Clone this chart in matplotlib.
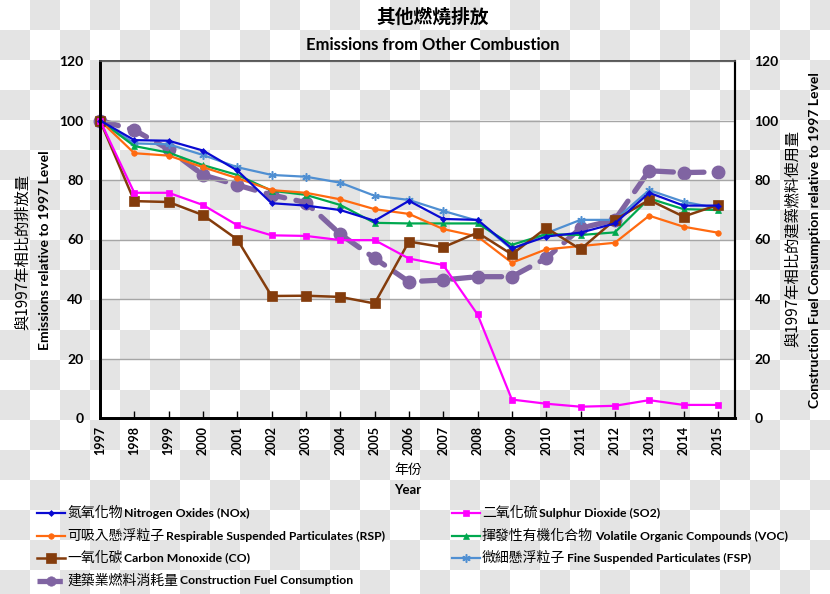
import numpy as np
import matplotlib
matplotlib.use("Agg")
import matplotlib.pyplot as plt
from matplotlib.lines import Line2D

# ---------------- data ----------------
years = list(range(1997, 2016))
nox = [100, 93.4, 93.2, 89.9, 83.2, 72.2, 71.4, 69.9, 66.3, 73.0,
       66.9, 66.6, 57.0, 61.0, 62.3, 65.4, 75.7, 71.4, 71.4]
so2 = [100, 75.7, 75.7, 71.6, 64.8, 61.4, 61.2, 59.8, 59.8, 53.6,
       51.4, 34.8, 6.2, 4.8, 3.8, 4.1, 6.0, 4.4, 4.4]
rsp = [100, 89.0, 88.2, 84.3, 80.6, 76.6, 75.7, 73.5, 70.2, 68.6,
       63.5, 61.0, 52.2, 56.7, 57.8, 58.9, 68.0, 64.3, 62.3]
voc = [100, 91.4, 89.2, 85.0, 81.7, 76.4, 75.0, 71.6, 65.6, 65.4,
       65.4, 65.4, 58.2, 61.8, 61.5, 62.4, 73.8, 70.2, 69.9]
co = [100, 72.9, 72.6, 68.2, 60.0, 41.0, 41.1, 40.7, 38.5, 59.3,
      57.4, 62.3, 55.0, 63.9, 56.7, 66.6, 73.3, 67.7, 71.6]
fsp = [100, 92.3, 92.0, 88.4, 84.3, 81.7, 81.1, 79.1, 74.7, 73.3,
       69.6, 66.3, 56.7, 62.1, 66.6, 66.6, 76.6, 72.7, 70.5]
fuel = [100, 96.8, 90.3, 81.7, 78.3, 75.0, 72.4, 61.8, 53.7, 45.8,
        46.4, 47.5, 47.5, 53.7, 63.8, 66.6, 83.1, 82.5, 82.7]

y_ticks = [0, 20, 40, 60, 80, 100, 120]

title_zh = "其他燃燒排放"
title_en = "Emissions from Other Combustion"
ylabel_zh = "與1997年相比的排放量"
ylabel_en = "Emissions relative to 1997 Level"
y2label_zh = "與1997年相比的建築燃料使用量"
y2label_en = "Construction Fuel Consumption relative to 1997 Level"
xlabel_zh = "年份"
xlabel_en = "Year"

names_zh = ["氮氧化物", "可吸入懸浮粒子", "一氧化碳", "建築業燃料消耗量",
            "二氧化硫", "揮發性有機化合物", "微細懸浮粒子"]
names_en = ["Nitrogen Oxides (NOx)", "Respirable Suspended Particulates (RSP)",
            "Carbon Monoxide (CO)", "Construction Fuel Consumption",
            "Sulphur Dioxide (SO2)", "Volatile Organic Compounds (VOC)",
            "Fine Suspended Particulates (FSP)"]

# ---------------- style ----------------
CJK = "Noto Sans CJK TC"
EN = "Lato"
W, H = 830, 594

ASTER = (6, 2, 0)
styles = {
    "nox": dict(color="#0a0ad2", marker="D", ms=3, lw=1.6, ls="-"),
    "so2": dict(color="#ff00ff", marker="s", ms=4, lw=1.6, ls="-"),
    "rsp": dict(color="#ff6a10", marker="o", ms=4, lw=1.6, ls="-"),
    "voc": dict(color="#00a84f", marker="^", ms=4.5, lw=1.6, ls="-"),
    "co": dict(color="#843c0c", marker="s", ms=6.5, lw=1.8, ls="-"),
    "fsp": dict(color="#4f8fd2", marker=ASTER, ms=6, lw=1.6, ls="-"),
    "fuel": dict(color="#8064a2", marker="o", ms=9, lw=3.8, ls=(0, (3.6, 2.2))),
}

fig = plt.figure(figsize=(W / 100, H / 100), dpi=100)
fig.patch.set_alpha(0)

# checkerboard background (transparent-image look)
yy, xx = np.mgrid[0:H, 0:W]
cell = ((xx // 30) + (yy // 30)) % 2
bg = np.where(cell[..., None] == 1, np.array([0.895, 0.895, 0.895]), np.array([1.0, 1.0, 1.0]))
fig.figimage(bg, xo=0, yo=0, origin="upper", zorder=0)


def fx(px):
    return px / W


def fy(py):
    return 1 - py / H


ax = fig.add_axes([fx(100), fy(418), fx(735) - fx(100), fy(61) - fy(418)])
ax2 = ax.twinx()
ax.set_zorder(2)
ax2.set_zorder(1)
ax.patch.set_visible(False)
ax2.patch.set_visible(False)

for key, data in [("fsp", fsp), ("voc", voc), ("rsp", rsp), ("co", co),
                  ("so2", so2), ("nox", nox)]:
    s = styles[key]
    ax.plot(years, data, color=s["color"], marker=s["marker"], ms=s["ms"],
            lw=s["lw"], ls=s["ls"], mew=1.1 if key == "fsp" else 0.5,
            mec=s["color"], mfc=s["color"], clip_on=False)
s = styles["fuel"]
ax2.plot(years, fuel, color=s["color"], marker=s["marker"], ms=s["ms"],
         lw=s["lw"], ls=s["ls"], clip_on=False, dash_capstyle="round")

for a in (ax, ax2):
    a.set_xlim(1997, 2015.5)
    a.set_ylim(0, 120)
    a.set_yticks(y_ticks)

ax.set_xticks(years)
ax.set_xticklabels([str(y) for y in years], rotation=90, fontfamily=EN,
                   fontweight="bold", fontsize=9)
ax.tick_params(axis="x", direction="in", length=5, width=1, pad=6)
ax.tick_params(axis="y", length=0, pad=12)
ax2.tick_params(axis="y", length=0, pad=14)
for lab in ax.get_yticklabels():
    lab.set_fontfamily(EN); lab.set_fontweight("bold"); lab.set_fontsize(10)
for lab in ax2.get_yticklabels():
    lab.set_fontfamily(EN); lab.set_fontweight("bold"); lab.set_fontsize(10)

ax.grid(axis="y", color="#a6a6a6", lw=1)
ax.set_axisbelow(True)
for a in (ax, ax2):
    a.spines["left"].set_linewidth(2)
    a.spines["bottom"].set_linewidth(2)
    a.spines["right"].set_linewidth(1.5)
    a.spines["top"].set_linewidth(1.2)
    a.spines["top"].set_color("#555555")

# titles
fig.text(fx(433), fy(17), title_zh, ha="center", va="center", fontfamily=CJK,
         fontsize=13.5, fontweight="bold")
fig.text(fx(433), fy(45), title_en, ha="center", va="center", fontfamily=EN,
         fontsize=12, fontweight="bold")

# axis labels
fig.text(fx(22), fy(252), ylabel_zh, rotation=90, ha="center", va="center",
         fontfamily=[CJK, "DejaVu Sans"], fontsize=11)
fig.text(fx(45), fy(250), ylabel_en, rotation=90, ha="center", va="center",
         fontfamily=EN, fontsize=10, fontweight="bold")
fig.text(fx(792), fy(238), y2label_zh, rotation=90, ha="center", va="center",
         fontfamily=[CJK, "DejaVu Sans"], fontsize=11)
fig.text(fx(815), fy(240), y2label_en, rotation=90, ha="center", va="center",
         fontfamily=EN, fontsize=10, fontweight="bold")
fig.text(fx(408), fy(470), xlabel_zh, ha="center", va="center",
         fontfamily=CJK, fontsize=10)
fig.text(fx(408), fy(490), xlabel_en, ha="center", va="center",
         fontfamily=EN, fontsize=9.5, fontweight="bold")

# legend (manual, mixed fonts)
order = ["nox", "rsp", "co", "fuel", "so2", "voc", "fsp"]
pos = [(37, 65, 67, 513), (37, 65, 67, 536), (37, 65, 67, 558), (37, 65, 67, 581),
       (452, 480, 482, 513), (452, 480, 482, 536), (452, 480, 482, 558)]
renderer = fig.canvas.get_renderer()
for key, (x0, x1, xt, yrow), zh, en in zip(order, pos, names_zh, names_en):
    s = styles[key]
    lw = s["lw"]
    fig.add_artist(Line2D([fx(x0), fx(x1)], [fy(yrow), fy(yrow)], color=s["color"],
                          lw=lw, ls="-" if key != "fuel" else (0, (2.0, 0.8)),
                          transform=fig.transFigure))
    fig.add_artist(Line2D([fx((x0 + x1) / 2)], [fy(yrow)], color=s["color"],
                          marker=s["marker"], ms=s["ms"] * (0.75 if key == "fuel" else 1),
                          mew=1.1 if key == "fsp" else 0.5,
                          transform=fig.transFigure))
    t = fig.text(fx(xt), fy(yrow), zh, ha="left", va="center", fontfamily=CJK,
                 fontsize=10)
    bb = t.get_window_extent(renderer=renderer)
    fig.text(bb.x1 / W + 0.002, fy(yrow), en, ha="left", va="center",
             fontfamily=EN, fontsize=8.8, fontweight="bold")

fig.savefig("out.png", dpi=100, transparent=False)
